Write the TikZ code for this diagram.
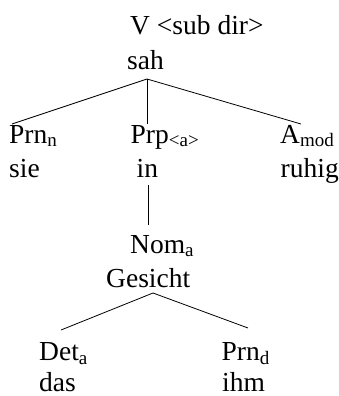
\documentclass[tikz,border=0pt]{standalone}
\usepackage{fontspec}
\setmainfont{Liberation Serif}
\newcommand{\subx}[1]{\raisebox{-3.5pt}{\fontsize{19}{19}\selectfont #1}}
\begin{document}
\begin{tikzpicture}[x=1pt,y=-1pt,
  lbl/.style={anchor=base west, inner sep=0pt, font=\fontsize{27.5}{32}\selectfont},
  edge/.style={line width=0.8pt}]
\useasboundingbox (0,0) rectangle (338,396);
% labels
\node[lbl] (V) at (130,35) {V <sub dir>};
\node[lbl] (sah) at (127,70) {sah};
\node[lbl] (prn) at (9,143) {Prn\subx{n}};
\node[lbl] (sie) at (9,177) {sie};
\node[lbl] (prp) at (130.5,143) {Prp\subx{<a>}};
\node[lbl] (in) at (136.5,177) {in};
\node[lbl] (amod) at (280,143) {A\subx{mod}};
\node[lbl] (ruhig) at (280.5,177) {ruhig};
\node[lbl] (nom) at (130,253) {Nom\subx{a}};
\node[lbl] (ges) at (106,287) {Gesicht};
\node[lbl] (det) at (39,360.5) {Det\subx{a}};
\node[lbl] (das) at (39,391.5) {das};
\node[lbl] (prnd) at (221.5,360.5) {Prn\subx{d}};
\node[lbl] (ihm) at (222,391.5) {ihm};
% connector points
\coordinate (r1) at (147,79);
\coordinate (e1) at (12,124);
\coordinate (e2) at (147,124);
\coordinate (e3) at (301,124);
\coordinate (n1) at (148,185);
\coordinate (n2) at (148,225);
\coordinate (r2) at (153,293);
\coordinate (e4) at (61,330);
\coordinate (e5) at (248,328);
% connectors
\draw[edge] (r1) -- (e1);
\draw[edge] (r1) -- (e2);
\draw[edge] (r1) -- (e3);
\draw[edge] (n1) -- (n2);
\draw[edge] (r2) -- (e4);
\draw[edge] (r2) -- (e5);
\end{tikzpicture}
\end{document}
